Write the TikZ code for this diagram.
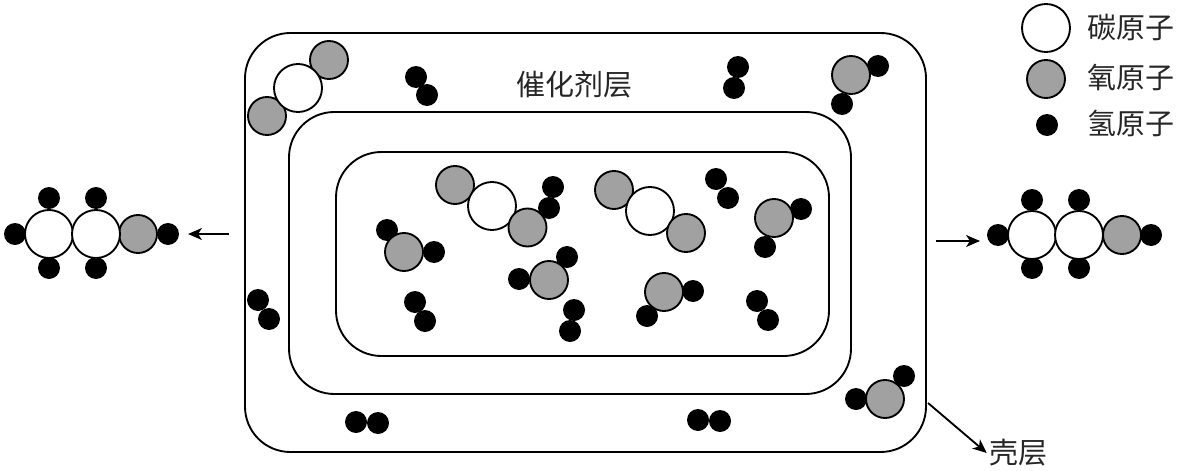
\documentclass[tikz,border=0pt]{standalone}
\usepackage{fontspec}
\usetikzlibrary{arrows.meta}
\newfontfamily\cjk{Noto Sans CJK SC}

\begin{document}
\begin{tikzpicture}[x=0.75pt,y=-0.75pt,line width=1.4pt,font=\cjk\fontsize{21.75}{26}\selectfont]
    \tikzstyle{layer box}=[draw,inner sep=0,outer sep=0,rounded corners=34pt]
    \tikzstyle{carbon node}=[circle,draw,inner sep=0,fill=white,minimum size=36pt]
    \tikzstyle{oxygen node}=[circle,draw,inner sep=0,fill=black!37,minimum size=28.5pt]
    \tikzstyle{hydrogen node}=[circle,inner sep=0,fill=black,minimum size=16.5pt]
    \tikzstyle{text node}=[inner sep=1pt,text=black!85]
    \tikzstyle{big arrow}=[-{Stealth[length=10.5pt,width=9pt,inset=3pt]}]

    \useasboundingbox (0,0) rectangle (1178,471);

    % layers
    \node(shell)[layer box,minimum width=510.75pt,minimum height=314.25pt] at (585.5,242.5){};
    \node(catalyst)[layer box,minimum width=421.5pt,minimum height=211.5pt] at (570,253){};
    \node(core)[layer box,minimum width=369.75pt,minimum height=153pt] at (582.5,254){};
    \node(catalyst label)[text node] at (574,85){催化剂层};

    % hydrogen
    \foreach \name/\x/\y in {a1/416/77,a2/427/95,b1/738/67,b2/734/88,c1/553/187,c2/549/208,
        d1/716/179,d2/728/198,e1/415/302,e2/425/321,f1/574/310,f2/570/331,g1/757/301,g2/768/320,
        h1/258/300,h2/269/319,i1/356/422,i2/378/423,j1/698/420,j2/720/421,
        k1/878/66,k2/842/104,l1/801/209,l2/765/247,m1/387/230,m2/434/252,
        n1/567/257,n2/519/279,o1/693/291,o2/647/316,p1/904/376,p2/856/399,
        q1/15/234,q2/49/198,q3/96/198,q4/49/268,q5/96/268,q6/168/234,
        r1/998/235,r2/1032/200,r3/1079/200,r4/1032/268,r5/1079/268,r6/1151/235}
        \node(H\name)[hydrogen node] at (\x,\y){};

    % oxygen
    \foreach \name/\x/\y in {a/329/60,b/267/116,c/455/185,e/614/190,
        g/851/75,h/774/218,i/404/252,j/549/280,k/664/292,l/885/399,m/138/234,n/1122/235}
        \node(O\name)[oxygen node] at (\x,\y){};

    % carbon
    \foreach \name/\x/\y in {a/298/88,b/492/206,c/650/211,d/49/234,e/96/234,f/1032/235,g/1079/235}
        \node(C\name)[carbon node] at (\x,\y){};

    % oxygen on top of carbon
    \node(Od)[oxygen node] at (527.5,227.5){};
    \node(Of)[oxygen node] at (686,233){};

    % legend
    \node(legend carbon)[carbon node] at (1046,28){};
    \node(legend oxygen)[oxygen node] at (1046,79){};
    \node(legend hydrogen)[hydrogen node] at (1047,125){};
    \node(carbon label)[text node] at (1131,27){碳原子};
    \node(oxygen label)[text node] at (1131,77){氧原子};
    \node(hydrogen label)[text node] at (1131,123){氢原子};

    % arrows
    \coordinate(left start) at (229,234);
    \coordinate(left end) at (188,234);
    \coordinate(right start) at (936,241);
    \coordinate(right end) at (980,241);
    \coordinate(shell start) at (928,403);
    \node(shell label)[text node] at (1018,453){壳层};
    \draw[big arrow] (left start) -- (left end);
    \draw[big arrow] (right start) -- (right end);
    \draw[big arrow] (shell start) -- (shell label.west);
\end{tikzpicture}
\end{document}
